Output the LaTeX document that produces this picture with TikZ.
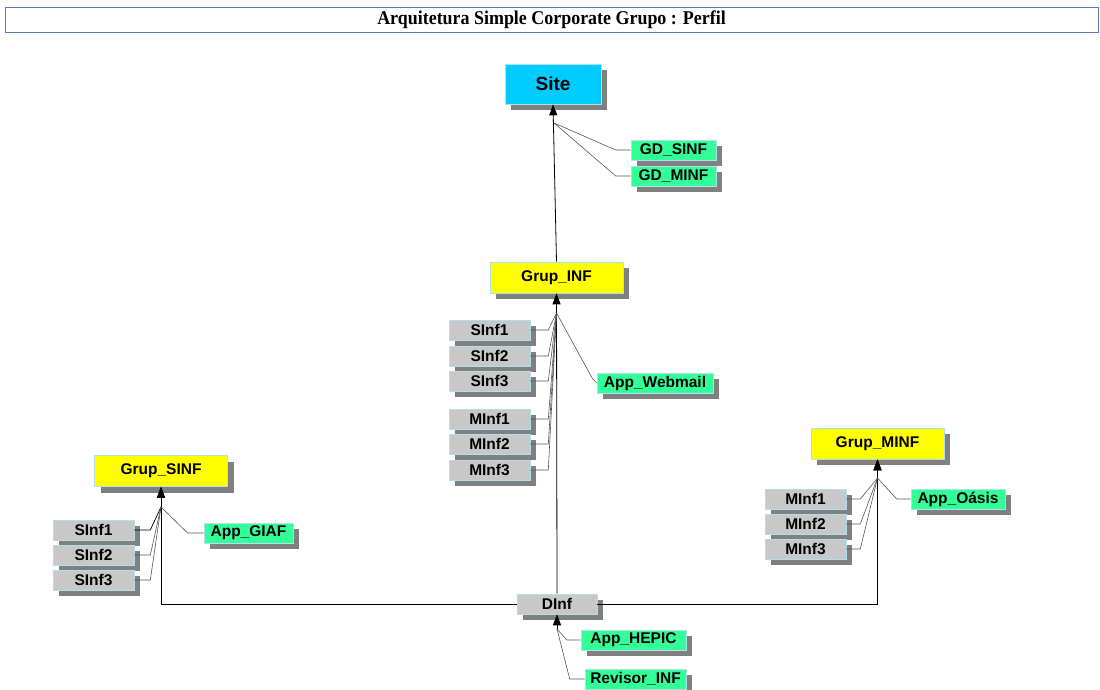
\documentclass[tikz,border=0pt]{standalone}
\usepackage{fontspec}
\setmainfont{Liberation Sans}
\newfontfamily\titlefont{Liberation Serif}
\usetikzlibrary{arrows.meta,shadows}
\definecolor{sitecyan}{RGB}{0,204,255}
\definecolor{grpyellow}{RGB}{255,255,0}
\definecolor{appgreen}{RGB}{51,255,153}
\definecolor{membgray}{RGB}{200,200,200}
\definecolor{boxedge}{RGB}{176,224,240}
\definecolor{shadowgray}{RGB}{128,128,128}
\definecolor{titleedge}{RGB}{90,125,175}
\definecolor{depline}{RGB}{85,85,85}
\begin{document}
\begin{tikzpicture}[x=1pt,y=-1pt,
  box/.style={draw=boxedge,line width=0.6pt,inner sep=0pt,
    font=\bfseries\fontsize{15.5}{15.5}\selectfont,
    drop shadow={shadow xshift=6pt,shadow yshift=-6pt,fill=shadowgray,opacity=1}},
  sitebox/.style={box,fill=sitecyan,minimum width=96pt,minimum height=40pt,
    font=\bfseries\fontsize{19}{19}\selectfont},
  grpbox/.style={box,fill=grpyellow,minimum width=133pt,minimum height=31pt},
  appbox/.style={box,fill=appgreen,minimum height=20pt},
  membox/.style={box,fill=membgray,minimum width=81pt,minimum height=20pt},
  main/.style={draw=black,line width=0.8pt,-{Triangle[length=11pt,width=8pt]}},
  link/.style={draw=black,line width=0.7pt},
  dep/.style={draw=depline,line width=0.6pt}]
\useasboundingbox (0,0) rectangle (1100,690);

% title bar
\node[draw=titleedge,line width=0.8pt,fill=white,minimum width=1093pt,minimum height=25pt,inner sep=0pt]
  (title) at (551.5,19.5) {\titlefont\bfseries\fontsize{19.5}{19.5}\selectfont\scalebox{0.92}[1]{Arquitetura Simple Corporate Grupo : Perfil}};

% nodes
\node[sitebox] (site) at (553,84) {Site};
\node[appbox,minimum width=85pt] (gdsinf) at (673.5,150) {GD\_SINF};
\node[appbox,minimum width=85pt] (gdminf) at (673.5,176) {GD\_MINF};

\node[grpbox] (ginf) at (556.5,277.5) {Grup\_INF};
\node[membox] (isi1) at (489.5,330) {SInf1};
\node[membox] (isi2) at (489.5,356) {SInf2};
\node[membox] (isi3) at (489.5,381) {SInf3};
\node[membox] (imi1) at (489.5,419) {MInf1};
\node[membox] (imi2) at (489.5,444) {MInf2};
\node[membox] (imi3) at (489.5,470) {MInf3};
\node[appbox,minimum width=116pt] (webmail) at (655,383) {App\_Webmail};

\node[grpbox] (gsinf) at (161,471) {Grup\_SINF};
\node[membox] (ss1) at (93.5,530) {SInf1};
\node[membox] (ss2) at (93.5,555) {SInf2};
\node[membox] (ss3) at (93.5,580) {SInf3};
\node[appbox,minimum width=89pt] (giaf) at (248.5,533) {App\_GIAF};

\node[grpbox] (gminf) at (877.5,443.5) {Grup\_MINF};
\node[membox] (mm1) at (805.5,499) {MInf1};
\node[membox] (mm2) at (805.5,524) {MInf2};
\node[membox] (mm3) at (805.5,549) {MInf3};
\node[appbox,minimum width=94pt] (oasis) at (958,499) {App\_Oásis};

\node[membox,minimum width=80pt] (dinf) at (557,604) {DInf};
\node[appbox,minimum width=105pt] (hepic) at (633.5,640) {App\_HEPIC};
\node[appbox,minimum width=101pt] (revisor) at (635.5,679) {Revisor\_INF};

% junction points of the dependency lines
\coordinate (jsite) at (554,123);
\coordinate (jinf) at (556.5,313);
\coordinate (jsinf) at (161,507);
\coordinate (jminf) at (877.5,478);
\coordinate (jdinf) at (557,629);

% hierarchy
\draw[main] (ginf.north) -- (site.south);
\draw[main] (dinf.north) -- (ginf.south);
\draw[main] (dinf.west) -| (gsinf.south);
\draw[main] (dinf.east) -| (gminf.south);
\draw[main] (jdinf) -- (dinf.south);
\draw[main] (jsinf) -- (gsinf.south);
\draw[main] (jminf) -- (gminf.south);

% dependency lines
\draw[dep] (gdsinf.west) -- ++(-15,0) -- (jsite);
\draw[dep] (gdminf.west) -- ++(-15,0) -- (jsite);

\foreach \n in {isi1,isi2,isi3,imi1,imi2,imi3}
  \draw[dep] (\n.east) -- ++(18,0) -- (jinf);
\draw[dep] (webmail.west) -- ++(-4,-4) -- (jinf);

\draw[link] (ss1.east) -- ++(16,0) -- (jsinf);
\foreach \n in {ss2,ss3}
  \draw[dep] (\n.east) -- ++(16,0) -- (jsinf);
\draw[dep] (giaf.west) -- ++(-16,0) -- (jsinf);

\foreach \n in {mm1,mm2,mm3}
  \draw[dep] (\n.east) -- ++(14,0) -- (jminf);
\draw[dep] (oasis.west) -- ++(-14,0) -- (jminf);

\draw[dep] (hepic.west) -- ++(-14,0) -- (jdinf);
\draw[dep] (revisor.west) -- ++(-15,0) -- (jdinf);
\end{tikzpicture}
\end{document}
